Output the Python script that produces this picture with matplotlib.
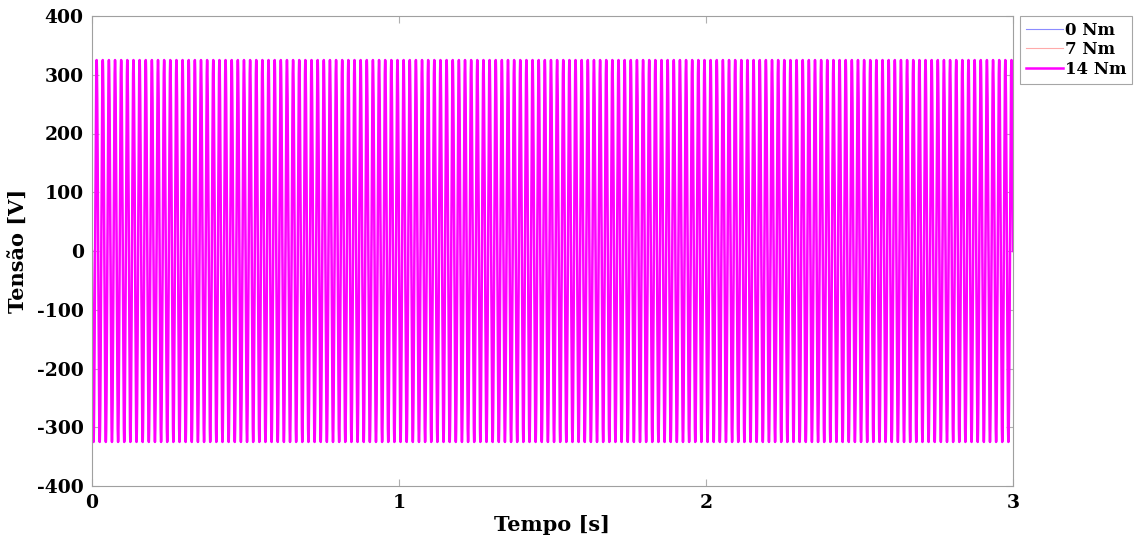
import numpy as np
import matplotlib.pyplot as plt

# three load cases, identical 50 Hz voltage, ~325 V peak
labels = ['0 Nm', '7 Nm', '14 Nm']
peak_v = [325, 325, 325]
freq_hz = [50, 50, 50]
t_end = 3.0
colors = ['#8c8cff', '#ffaaaa', '#ff00ff']
widths = [0.8, 0.8, 1.8]

plt.rcParams['font.family'] = ['DejaVu Serif']
plt.rcParams['font.weight'] = 'bold'
plt.rcParams['axes.unicode_minus'] = False

t = np.linspace(0, t_end, 60001)

fig = plt.figure(figsize=(11.37, 5.43), dpi=100)
ax = fig.add_axes([92 / 1137, 1 - 486 / 543, 921 / 1137, 470 / 543])

for lab, a, f, c, w in zip(labels, peak_v, freq_hz, colors, widths):
    ax.plot(t, -a * np.sin(2 * np.pi * f * t), color=c, lw=w, label=lab)

ax.set_xlim(0, 3)
ax.set_ylim(-400, 400)
ax.set_xticks([0, 1, 2, 3])
ax.set_yticks(np.arange(-400, 401, 100))
ax.tick_params(direction='in', top=True, right=True, labelsize=13.5,
               color='#b0b0b0', length=5, pad=6)
for s in ax.spines.values():
    s.set_color('#a0a0a0')
ax.set_xlabel('Tempo [s]', fontsize=15, fontweight='bold', labelpad=2)
ax.set_ylabel('Tensão [V]', fontsize=15, fontweight='bold', labelpad=6)

leg = ax.legend(loc='upper left', bbox_to_anchor=(1.008, 1.0), borderaxespad=0,
                fontsize=12, frameon=True, fancybox=False, handlelength=2.2,
                handletextpad=0.1, borderpad=0.35, labelspacing=0.15)
leg.get_frame().set_edgecolor('#909090')
leg.get_frame().set_linewidth(0.8)

fig.savefig('out.png', dpi=100)
